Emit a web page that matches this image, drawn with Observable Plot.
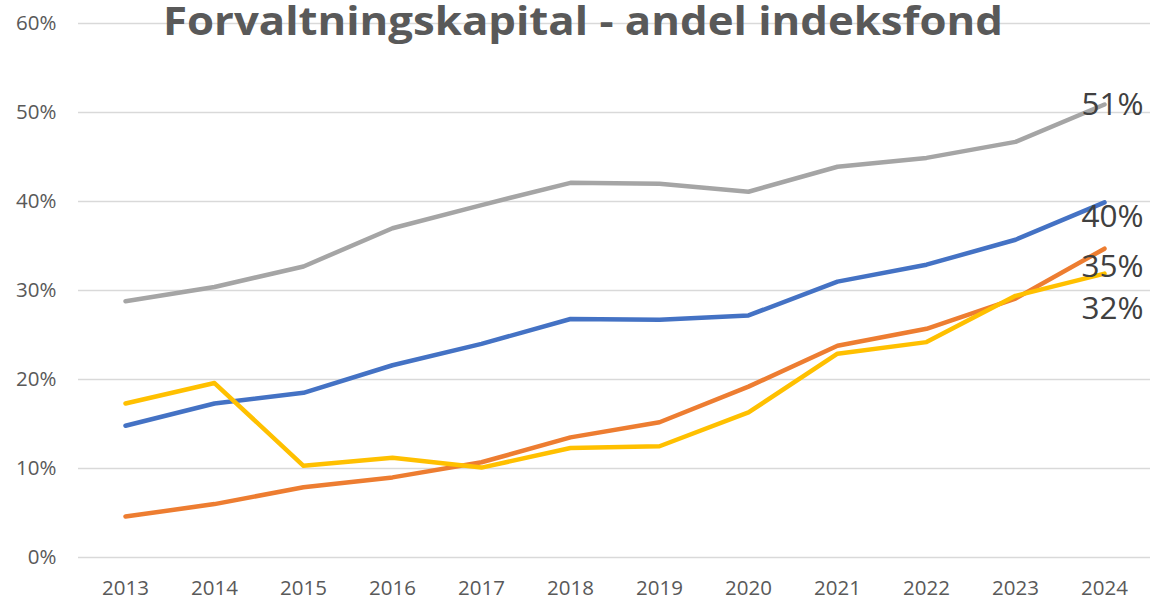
<!DOCTYPE html>
<html>
<head>
<meta charset="utf-8">
<script src="https://cdn.jsdelivr.net/npm/d3@7"></script>
<script src="https://cdn.jsdelivr.net/npm/@observablehq/plot@0.6"></script>
<style>
  html, body { margin: 0; padding: 0; background: #ffffff; }
  #chart { width: 1150px; height: 600px; position: relative; }
</style>
</head>
<body>
<div id="chart"></div>
<script>
// ---- Data ----
const titleText = "Forvaltningskapital - andel indeksfond";
const years = [2013, 2014, 2015, 2016, 2017, 2018, 2019, 2020, 2021, 2022, 2023, 2024];
const yTicks = [0, 10, 20, 30, 40, 50, 60];
const seriesNames = ["Serie 1", "Serie 2", "Serie 3", "Serie 4"];
const seriesColors = ["#4472C4", "#ED7D31", "#A5A5A5", "#FFC000"];
const serie1 = [14.8, 17.3, 18.5, 21.6, 24.0, 26.8, 26.7, 27.2, 31.0, 32.9, 35.7, 39.9];
const serie2 = [4.6, 6.0, 7.9, 9.0, 10.7, 13.5, 15.2, 19.2, 23.8, 25.7, 29.1, 34.7];
const serie3 = [28.8, 30.4, 32.7, 37.0, 39.6, 42.1, 42.0, 41.1, 43.9, 44.9, 46.7, 50.9];
const serie4 = [17.3, 19.6, 10.3, 11.2, 10.1, 12.3, 12.5, 16.3, 22.9, 24.2, 29.4, 31.9];

const allSeries = [serie1, serie2, serie3, serie4];
const rows = seriesNames.flatMap((name, i) =>
  years.map((year, j) => ({ series: name, year, value: allSeries[i][j] }))
);

// label vertical offsets (layout only)
const labelDy = { "Serie 1": 15, "Serie 2": 18, "Serie 3": 0, "Serie 4": 35 };

const lastRows = seriesNames.map((name, i) => ({
  series: name, year: years[years.length - 1], value: allSeries[i][years.length - 1]
}));

const svg = Plot.plot({
  width: 1150,
  height: 600,
  marginLeft: 78,
  marginRight: 0,
  marginTop: 23,
  marginBottom: 43,
  style: { fontFamily: "'Open Sans', sans-serif", fontSize: "20.5px", color: "#595959", background: "#ffffff", overflow: "visible" },
  x: { type: "point", domain: years, padding: 0.5, label: null, tickSize: 0, tickPadding: 23, tickFormat: d => String(d) },
  y: { domain: [0, 60], ticks: yTicks, tickFormat: d => d + "%", label: null, tickSize: 0, tickPadding: 22 },
  color: { domain: seriesNames, range: seriesColors },
  marks: [
    Plot.ruleY(yTicks, { stroke: "#d9d9d9", strokeWidth: 1.5 }),
    Plot.lineY(rows, { x: "year", y: "value", z: "series", stroke: "series", strokeWidth: 4.5, strokeLinejoin: "round", strokeLinecap: "round" }),
    ...lastRows.map(r => Plot.text([r], {
      x: "year", y: "value", text: d => Math.round(d.value) + "%",
      textAnchor: "end", dx: 39, dy: labelDy[r.series],
      fill: "#404040", fontSize: 31.5
    }))
  ]
});

d3.select(svg).append("text")
  .attr("x", 583)
  .attr("y", 35)
  .attr("text-anchor", "middle")
  .attr("font-family", "'Open Sans', sans-serif")
  .attr("font-weight", "bold")
  .attr("font-size", 39)
  .attr("fill", "#595959")
  .attr("textLength", 840)
  .attr("lengthAdjust", "spacingAndGlyphs")
  .text(titleText);

document.getElementById("chart").appendChild(svg);
</script>
</body>
</html>
